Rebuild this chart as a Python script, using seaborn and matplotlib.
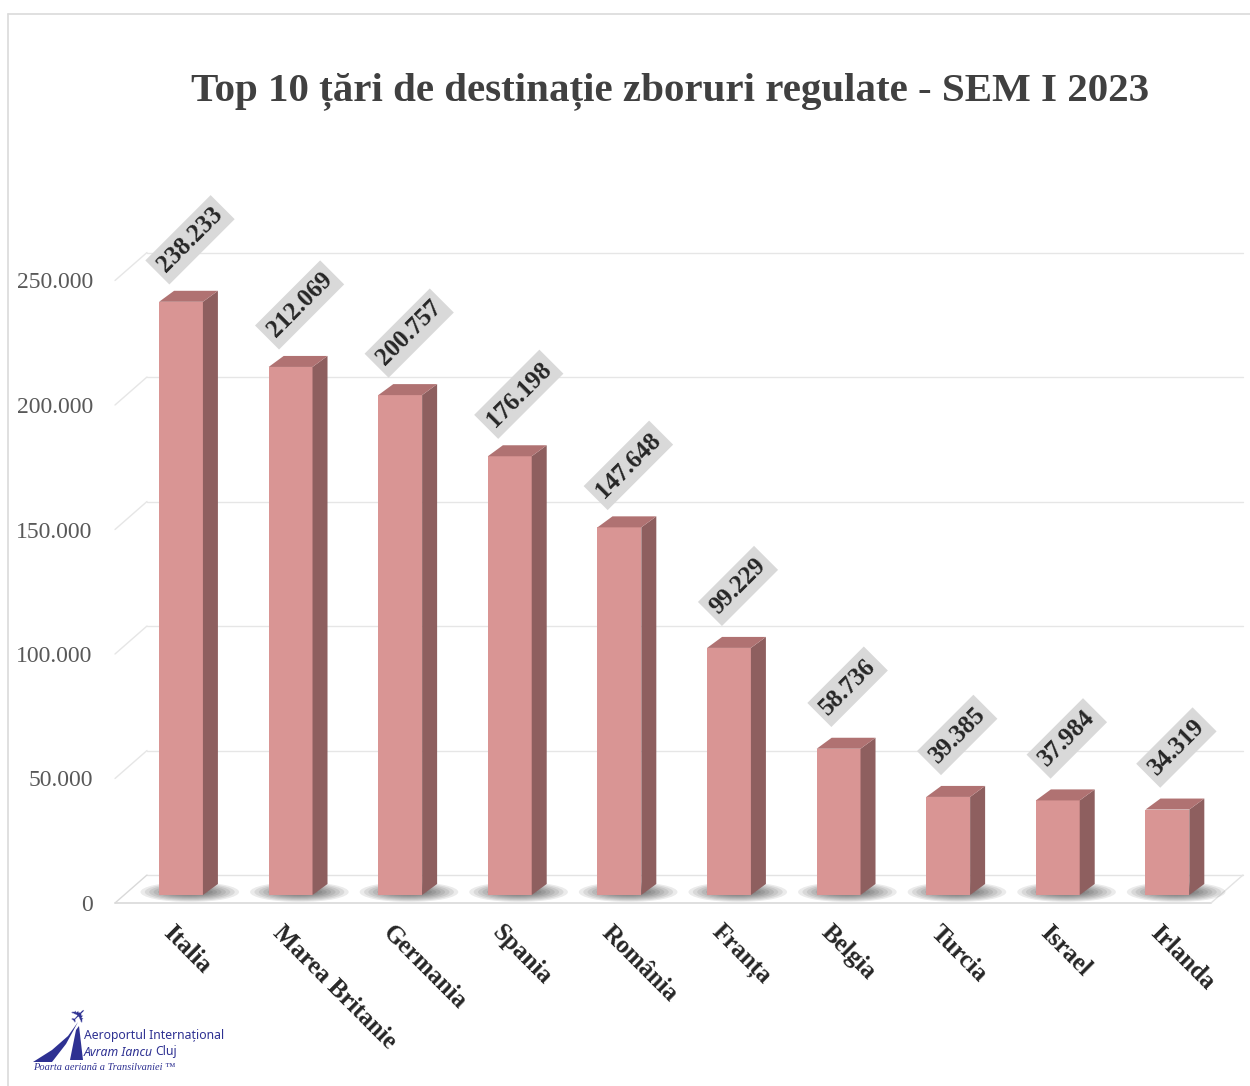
import numpy as np
import pandas as pd
import seaborn as sns
import matplotlib.pyplot as plt
from matplotlib.transforms import ScaledTranslation
from matplotlib.patches import Polygon, Ellipse
from matplotlib.lines import Line2D

# date: pasageri pe tara de destinatie, SEM I 2023
countries = ["Italia", "Marea Britanie", "Germania", "Spania", "România",
             "Franța", "Belgia", "Turcia", "Israel", "Irlanda"]
passengers = [238233, 212069, 200757, 176198, 147648, 99229, 58736, 39385, 37984, 34319]
y_ticks = [0, 50000, 100000, 150000, 200000, 250000]
title = "Top 10 țări de destinație zboruri regulate - SEM I 2023"

FRONT = "#D99594"
SIDE = "#8E5F5F"
TOP = "#B07272"

sns.set_style("white")
plt.rcParams['font.family'] = ['Liberation Serif', 'DejaVu Serif']

W, H = 1250, 1086
fig = plt.figure(figsize=(W / 100, H / 100), dpi=100)
ax = fig.add_axes([115 / W, 183 / H, 1096 / W, 622.5 / H])

xmin, xmax = -0.52, 9.48
px_x = 1096 / (xmax - xmin)      # pixels per category
px_y = 622.5 / 250000            # pixels per passenger


def shift(dx, dy):
    return ax.transData + ScaledTranslation(dx / 100, dy / 100, fig.dpi_scale_trans)


bar_tr = shift(9, 8)
wall_tr = shift(32, 28)

df = pd.DataFrame({"tara": countries, "pasageri": passengers})

# shadows on the floor
for i in range(len(countries)):
    for k in range(8):
        e = Ellipse((i + 0.08, 3 / px_y), 0.9 - k * 0.08, (20 - k * 2) / px_y,
                    transform=bar_tr, fc="#000000", alpha=0.08, ec="none",
                    zorder=1, clip_on=False)
        ax.add_patch(e)

sns.barplot(data=df, x="tara", y="pasageri", color=FRONT, saturation=1,
            width=0.4, errorbar=None, ax=ax, zorder=3, linewidth=0)
for p in ax.patches:
    if p.get_facecolor()[3] > 0 and p.get_height() > 1000:
        p.set_transform(bar_tr)

# 3d faces
ddx = 15 / px_x
ddy = 11 / px_y
for i, v in enumerate(passengers):
    x0, x1 = i - 0.2, i + 0.2
    ax.add_patch(Polygon([(x1, 0), (x1 + ddx, ddy), (x1 + ddx, v + ddy), (x1, v)],
                         transform=bar_tr, fc=SIDE, ec="none", zorder=3, clip_on=False))
    ax.add_patch(Polygon([(x0, v), (x1, v), (x1 + ddx, v + ddy), (x0 + ddx, v + ddy)],
                         transform=bar_tr, fc=TOP, ec="none", zorder=3, clip_on=False))

# walls and floor
wdx = 32 / px_x
wdy = 28 / px_y
for t in y_ticks[1:]:
    ax.plot([xmin, xmax], [t, t], transform=wall_tr, color="#E6E6E6", lw=1,
            zorder=0, clip_on=False)
    ax.plot([xmin, xmin + wdx], [t, t + wdy], color="#E6E6E6", lw=1,
            zorder=0, clip_on=False)
ax.plot([xmin, xmax], [0, 0], color="#D9D9D9", lw=1.2, zorder=0, clip_on=False)
ax.plot([xmin, xmax], [0, 0], transform=wall_tr, color="#E3E3E3", lw=1, zorder=0, clip_on=False)
ax.plot([xmin, xmin + wdx], [0, wdy], color="#D9D9D9", lw=1, zorder=0, clip_on=False)
ax.plot([xmax, xmax + wdx], [0, wdy], color="#E3E3E3", lw=1, zorder=0, clip_on=False)

ax.set_xlim(xmin, xmax)
ax.set_ylim(0, 250000)
ax.set_xticks([])
ax.set_xlabel("")
ax.set_ylabel("")
ax.set_yticks(y_ticks)
ax.set_yticklabels([f"{t:,.0f}".replace(",", ".") for t in y_ticks],
                   fontsize=17, color="#595959")
ax.tick_params(axis="y", length=0, pad=16)
ax.patch.set_alpha(0)
sns.despine(ax=ax, left=True, bottom=True)

# category labels
for i, name in enumerate(countries):
    ax.text(i, 0, name, transform=shift(3, -18), rotation=-45, rotation_mode="anchor",
            ha="left", va="top", fontsize=18, fontweight="bold", color="#262626")

# value labels
for i, v in enumerate(passengers):
    ax.annotate(f"{v:,}".replace(",", "."), xy=(i, v), xytext=(18 * 0.72, 70 * 0.72),
                textcoords="offset points", ha="center", va="center", rotation=45,
                fontsize=18, fontweight="bold", color="#262626", zorder=5,
                bbox=dict(boxstyle="square,pad=0.22", fc="#D9D9D9", ec="none"))

fig.text(670 / W, 1 - 100 / H, title, ha="center", va="baseline", fontsize=29.5,
         fontweight="bold", color="#404040")

# frame
fig.add_artist(Line2D([8 / W, 8 / W], [0, 1 - 14 / H], color="#DADADA", lw=1.2))
fig.add_artist(Line2D([8 / W, 1], [1 - 14 / H, 1 - 14 / H], color="#DADADA", lw=1.2))


# logo
def fp(x, y):
    return (x / W, 1 - y / H)


NAVY = "#2E3192"
fig.add_artist(Polygon([fp(33, 1062), fp(52, 1050), fp(68, 1036), fp(78, 1022),
                        fp(66, 1044), fp(52, 1062)], closed=True, fc=NAVY, ec="none"))
fig.add_artist(Polygon([fp(76, 1030), fp(79, 1026), fp(83, 1060), fp(70, 1060)],
                       closed=True, fc=NAVY, ec="none"))
fig.text(*fp(80, 1016), "✈", family="DejaVu Sans", fontsize=15, color=NAVY,
         rotation=45, ha="center", va="center")
fig.text(*fp(84, 1036), "Aeroportul Internațional", family="Noto Sans", fontsize=8.8,
         fontweight="semibold", color=NAVY, va="center")
fig.text(*fp(84, 1052), "Avram Iancu", family="Noto Sans", fontsize=8.8,
         style="italic", color=NAVY, va="center")
fig.text(*fp(155, 1052), "Cluj", family="Noto Sans", fontsize=8.8,
         color=NAVY, va="center")
fig.text(*fp(33, 1068), "Poarta aeriană a Transilvaniei ™", fontsize=7.5,
         style="italic", color=NAVY, va="center")

fig.savefig("out.png", dpi=100, facecolor="white")
